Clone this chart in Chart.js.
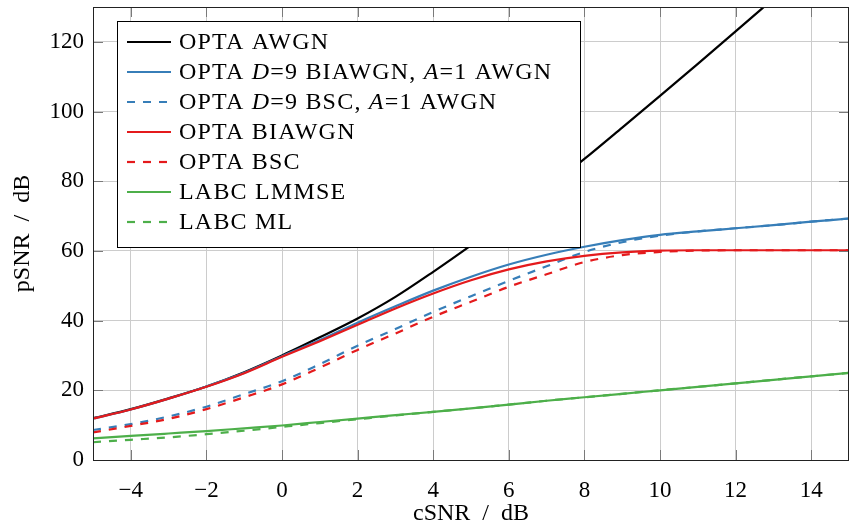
<!DOCTYPE html>
<html lang="en">
<head>
  <meta charset="UTF-8">
  <title>pSNR vs cSNR</title>
  <style>
    body {
      margin: 0;
      background: white;
    }
    canvas {
      display: block;
    }
  </style>
</head>
<body>
  <canvas id="snrChart" width="850" height="528"></canvas>

  <script src="https://cdn.jsdelivr.net/npm/chart.js"></script>

  <script>
    // channel SNR in dB (x positions of the read values)
    const cSNR = [-5, -4, -3, -2, -1, 0, 1, 2, 3, 4, 5, 6, 7, 8, 9, 10, 11, 12, 13, 14, 15];

    // pSNR in dB
    const optaAwgn = [12.0, 14.6, 17.7, 21.1, 25.2, 30.0, 35.2, 40.6, 46.8, 54.0, 61.6, 69.5, 77.8, 86.4, 95.4, 104.5, 113.7, 123.0, 132.4];
    const optaD9Biawgn = [11.9, 14.5, 17.6, 21.1, 25.0, 29.8, 34.4, 39.4, 44.1, 48.6, 52.6, 56.1, 58.9, 61.2, 63.1, 64.6, 65.6, 66.5, 67.4, 68.4, 69.3];
    const optaD9Bsc = [8.6, 10.3, 12.5, 15.3, 18.9, 22.6, 27.5, 32.8, 37.6, 42.5, 47.0, 51.4, 55.6, 59.7, 62.5, 64.4, 65.6, 66.5, 67.4, 68.4, 69.3];
    const optaBiawgn = [11.9, 14.5, 17.6, 21.0, 24.9, 29.6, 34.1, 38.8, 43.5, 47.8, 51.6, 54.7, 57.0, 58.6, 59.6, 60.1, 60.2, 60.2, 60.2, 60.2, 60.2];
    const optaBsc = [7.9, 9.8, 11.8, 14.6, 18.0, 21.7, 26.5, 31.6, 36.3, 41.1, 45.4, 49.7, 53.3, 56.8, 58.8, 59.7, 60.1, 60.2, 60.2, 60.2, 60.2];
    const labcLmmse = [6.2, 6.9, 7.6, 8.3, 9.1, 9.9, 10.9, 11.9, 12.9, 13.8, 14.8, 15.9, 17.0, 18.0, 19.0, 20.0, 21.0, 22.0, 23.0, 24.0, 25.0];
    const labcMl = [5.1, 5.8, 6.5, 7.4, 8.4, 9.5, 10.6, 11.7, 12.8, 13.8, 14.8, 15.9, 17.0, 18.0, 19.0, 20.0, 21.0, 22.0, 23.0, 24.0, 25.0];

    const xTicks = [-4, -2, 0, 2, 4, 6, 8, 10, 12, 14];
    const yTicks = [0, 20, 40, 60, 80, 100, 120];

    const FONT = '"Liberation Serif", "Times New Roman", serif';
    const DASH = [8, 8];

    // legend text pieces: [text, italic]
    const series = [
      { label: 'OPTA AWGN', data: optaAwgn, color: '#000000', dash: [], parts: [['OPTA AWGN', false]] },
      { label: 'OPTA D=9 BIAWGN, A=1 AWGN', data: optaD9Biawgn, color: '#377eb8', dash: [],
        parts: [['OPTA ', false], ['D', true], ['=9 BIAWGN, ', false], ['A', true], ['=1 AWGN', false]] },
      { label: 'OPTA D=9 BSC, A=1 AWGN', data: optaD9Bsc, color: '#377eb8', dash: DASH,
        parts: [['OPTA ', false], ['D', true], ['=9 BSC, ', false], ['A', true], ['=1 AWGN', false]] },
      { label: 'OPTA BIAWGN', data: optaBiawgn, color: '#e41a1c', dash: [], parts: [['OPTA BIAWGN', false]] },
      { label: 'OPTA BSC', data: optaBsc, color: '#e41a1c', dash: DASH, parts: [['OPTA BSC', false]] },
      { label: 'LABC LMMSE', data: labcLmmse, color: '#4daf4a', dash: [], parts: [['LABC LMMSE', false]] },
      { label: 'LABC ML', data: labcMl, color: '#4daf4a', dash: DASH, parts: [['LABC ML', false]] }
    ];

    function points(ys) {
      return ys.map((y, i) => ({ x: cSNR[i], y: y }));
    }

    // legend box over the curves, then the axis frame with inner ticks
    const frameAndLegend = {
      id: 'frameAndLegend',
      afterDraw(chart) {
        const ctx = chart.ctx;
        const a = chart.chartArea;
        ctx.save();

        const x0 = a.left + 24, y0 = a.top + 14, w = 463, h = 226;
        ctx.fillStyle = '#ffffff';
        ctx.fillRect(x0, y0, w, h);
        ctx.strokeStyle = '#000000';
        ctx.lineWidth = 1;
        ctx.strokeRect(x0 + 0.5, y0 + 0.5, w, h);

        ctx.textBaseline = 'middle';
        ctx.letterSpacing = '1.2px';
        series.forEach((s, i) => {
          const y = y0 + 21 + i * 30;
          ctx.beginPath();
          ctx.setLineDash(s.dash);
          ctx.strokeStyle = s.color;
          ctx.lineWidth = 2.2;
          ctx.moveTo(x0 + 10, y);
          ctx.lineTo(x0 + 54, y);
          ctx.stroke();
          ctx.setLineDash([]);

          let x = x0 + 62;
          ctx.fillStyle = '#000000';
          s.parts.forEach(([t, it]) => {
            ctx.font = (it ? 'italic ' : '') + '24px ' + FONT;
            ctx.fillText(t, x, y + 1);
            x += ctx.measureText(t).width;
          });
        });
        ctx.letterSpacing = '0px';

        // inner tick marks
        const xs = chart.scales.x, ys = chart.scales.y;
        ctx.strokeStyle = '#7a7a7a';
        ctx.lineWidth = 1;
        ctx.beginPath();
        xTicks.forEach(v => {
          const px = Math.round(xs.getPixelForValue(v)) + 0.5;
          ctx.moveTo(px, a.bottom); ctx.lineTo(px, a.bottom - 10);
          ctx.moveTo(px, a.top); ctx.lineTo(px, a.top + 10);
        });
        yTicks.forEach(v => {
          const py = Math.round(ys.getPixelForValue(v)) + 0.5;
          ctx.moveTo(a.left, py); ctx.lineTo(a.left + 10, py);
          ctx.moveTo(a.right, py); ctx.lineTo(a.right - 10, py);
        });
        ctx.stroke();

        ctx.strokeStyle = '#222222';
        ctx.strokeRect(Math.round(a.left) + 0.5, Math.round(a.top) + 0.5,
          Math.round(a.right - a.left) - 1, Math.round(a.bottom - a.top));
        ctx.restore();
      }
    };

    const tickFont = { family: FONT, size: 23 };
    const titleFont = { family: FONT, size: 24 };

    new Chart(document.getElementById('snrChart'), {
      type: 'line',
      data: {
        datasets: series.map((s, i) => ({
          label: s.label,
          data: points(s.data),
          borderColor: s.color,
          backgroundColor: s.color,
          borderWidth: 2.2,
          borderDash: s.dash,
          pointRadius: 0,
          fill: false,
          cubicInterpolationMode: 'monotone',
          order: -i
        }))
      },
      options: {
        responsive: false,
        animation: false,
        devicePixelRatio: 1,
        layout: { padding: { top: 7, right: 1, left: 0, bottom: 0 } },
        plugins: {
          legend: { display: false },
          tooltip: { enabled: false }
        },
        scales: {
          x: {
            type: 'linear',
            min: -5,
            max: 15,
            afterBuildTicks: s => { s.ticks = xTicks.map(v => ({ value: v })); },
            afterFit: s => { s.height = 68; },
            grid: { color: '#cccccc', drawTicks: false },
            border: { display: false },
            ticks: {
              autoSkip: false,
              maxRotation: 0,
              padding: 17,
              color: '#000000',
              font: tickFont,
              callback: v => String(v).replace('-', '\u2212')
            },
            title: {
              display: true,
              text: 'cSNR\u2002/\u2002dB',
              color: '#000000',
              font: titleFont,
              padding: { top: 0, bottom: 0 }
            }
          },
          y: {
            type: 'linear',
            min: 0,
            max: 130,
            afterBuildTicks: s => { s.ticks = yTicks.map(v => ({ value: v })); },
            afterFit: s => {
              s.width = 93;
              s.paddingTop = 0;
              s.paddingBottom = 0;
            },
            grid: { color: '#cccccc', drawTicks: false },
            border: { display: false },
            ticks: {
              autoSkip: false,
              padding: 9,
              color: '#000000',
              font: tickFont
            },
            title: {
              display: true,
              text: 'pSNR\u2002/\u2002dB',
              color: '#000000',
              font: titleFont,
              padding: { top: 8, bottom: 0 }
            }
          }
        }
      },
      plugins: [frameAndLegend]
    });
  </script>
</body>
</html>
